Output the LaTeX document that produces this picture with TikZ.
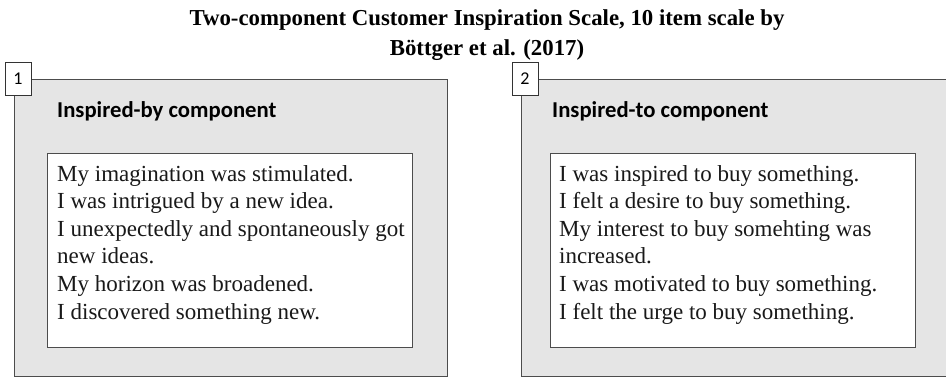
\documentclass[tikz,border=0pt]{standalone}
\usepackage{fontspec}
\setmainfont{Liberation Serif}
\newfontfamily\headfont{Carlito}
\usetikzlibrary{positioning}

\begin{document}
\begin{tikzpicture}[x=1pt,y=-1pt]
  \tikzstyle{panel}=[draw=black!70,fill=black!10,line width=1.2pt,minimum width=433pt,minimum height=297pt,inner sep=0pt,anchor=north west]
  \tikzstyle{num box}=[draw=black!80,fill=white,line width=1pt,minimum width=26pt,minimum height=33pt,inner sep=0pt,font=\headfont\fontsize{18}{20}\selectfont]
  \tikzstyle{heading}=[anchor=base west,inner sep=0pt,font=\headfont\bfseries\fontsize{22.7}{26}\selectfont]
  \tikzstyle{item box}=[draw=black!70,fill=white,line width=1.2pt,minimum width=365pt,minimum height=194pt,inner sep=0pt,anchor=north west]
  \tikzstyle{items}=[anchor=base west,align=left,inner sep=0pt,text=black!90,font=\fontsize{23}{27.6}\selectfont]

  \useasboundingbox (0,0) rectangle (946,378);

  \node[align=center,anchor=base,inner sep=0pt,font=\bfseries\fontsize{22.8}{30}\selectfont] (title) at (487,55)
    {Two-component Customer Inspiration Scale, 10 item scale by\\ Böttger et al. (2017)};

  % first component
  \node[panel] (p1) at (14,79) {};
  \node[num box,xshift=4pt] (n1) at (p1.north west) {1};
  \node[heading] (h1) at (57,117) {Inspired-by component};
  \node[item box] (b1) at (47,153) {};
  \node[items] (t1) at (57,319) {My imagination was stimulated.\\
    I was intrigued by a new idea.\\
    I unexpectedly and spontaneously got\\
    new ideas.\\
    My horizon was broadened.\\
    I discovered something new.};

  % second component
  \node[panel] (p2) at (521,79) {};
  \node[num box,xshift=4pt] (n2) at (p2.north west) {2};
  \node[heading] (h2) at (552,117) {Inspired-to component};
  \node[item box] (b2) at (550,153) {};
  \node[items] (t2) at (559,319) {I was inspired to buy something.\\
    I felt a desire to buy something.\\
    My interest to buy somehting was\\
    increased.\\
    I was motivated to buy something.\\
    I felt the urge to buy something.};
\end{tikzpicture}
\end{document}
